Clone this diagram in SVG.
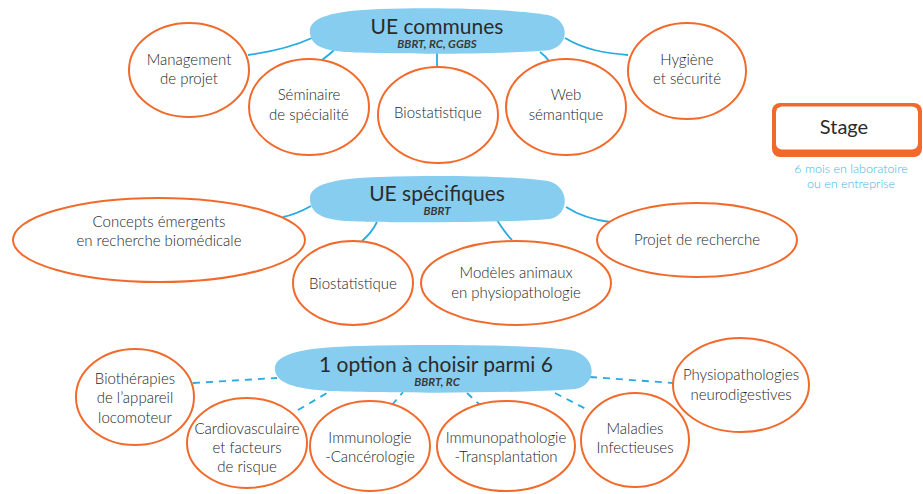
<svg xmlns="http://www.w3.org/2000/svg" width="923" height="494" viewBox="0 0 923 494">
<style>
.bg{fill:#ffffff}
.blob{fill:#87cdef;stroke:none}
.node{fill:#ffffff;stroke:#f26a2b;stroke-width:2}
.t{font-family:Lato,"Open Sans",sans-serif;font-size:15px;font-weight:300;fill:#262626;text-anchor:middle}
.h{font-family:Lato,"Open Sans",sans-serif;font-size:21px;fill:#2b2b2b;text-anchor:middle}
.s{font-family:Lato,"Open Sans",sans-serif;font-size:11.5px;font-style:italic;font-weight:bold;fill:#3a3a3a;text-anchor:middle}
.c{fill:none;stroke:#29abe2;stroke-width:1.8}
.d{fill:none;stroke:#29abe2;stroke-width:1.8;stroke-dasharray:7 6}
.stg{font-family:Lato,"Open Sans",sans-serif;font-size:20px;fill:#2b2b2b;text-anchor:middle}
.sub{font-family:Lato,"Open Sans",sans-serif;font-size:12.5px;font-weight:300;fill:#3fb4e6;text-anchor:middle}
</style>
<rect class="bg" x="0" y="0" width="923" height="494"/>
<g id="connectors">
<path class="c" d="M312 38 C290 48 270 52 248 55"/>
<path class="c" d="M334 50 C330 54 326 57 322 60"/>
<path class="c" d="M437 53 L437 67"/>
<path class="c" d="M540 52 C544 55 547 58 549 61"/>
<path class="c" d="M565 38 C585 50 605 53 628 55"/>
<path class="c" d="M311 206 C302 211 293 215 283 217"/>
<path class="c" d="M377 222 C373 230 368 236 362 241"/>
<path class="c" d="M497 220 C502 228 507 235 512 240"/>
<path class="c" d="M566 207 C580 216 594 220 610 222"/>
<path class="d" d="M193 383 L277 378"/>
<path class="d" d="M298 410 L327 393"/>
<path class="d" d="M392 405 L403 392"/>
<path class="d" d="M467 393 L480 405"/>
<path class="d" d="M555 393 L588 410"/>
<path class="d" d="M590 377 L673 383"/>
</g>
<g id="ue-communes">
<path class="blob" d="M310 33 C308 18 330 11 380 9 C440 7 515 9 548 15 C570 20 570 45 550 50 C500 55 380 54 345 52 C320 50 311 44 310 33 Z"/>
<text class="h" x="437" y="34">UE communes</text>
<text class="s" x="437" y="48">BBRT, RC, GGBS</text>
</g>
<g id="management"><ellipse class="node" cx="189" cy="70" rx="60" ry="47"/><text class="t" x="189" y="65">Management</text><text class="t" x="189" y="84">de projet</text></g>
<g id="seminaire"><ellipse class="node" cx="309" cy="107" rx="60" ry="48"/><text class="t" x="309" y="100">Séminaire</text><text class="t" x="309" y="120">de spécialité</text></g>
<g id="biostat1"><ellipse class="node" cx="438" cy="115" rx="60" ry="48"/><text class="t" x="438" y="118">Biostatistique</text></g>
<g id="web"><ellipse class="node" cx="566" cy="107" rx="60" ry="48"/><text class="t" x="566" y="100">Web</text><text class="t" x="566" y="120">sémantique</text></g>
<g id="hygiene"><ellipse class="node" cx="687" cy="71" rx="59" ry="48"/><text class="t" x="687" y="65">Hygiène</text><text class="t" x="687" y="84">et sécurité</text></g>
<g id="stage">
<rect x="772" y="103" width="150" height="54" rx="8" fill="#f26a2b"/>
<rect x="776" y="106.5" width="142" height="43" rx="6" fill="#ffffff"/>
<text class="stg" x="844" y="134">Stage</text>
<text class="sub" x="851" y="173">6 mois en laboratoire</text>
<text class="sub" x="851" y="188">ou en entreprise</text>
</g>
<g id="ue-specifiques">
<path class="blob" d="M310 200 C308 186 330 178 380 177 C440 175 515 176 548 181 C570 186 570 215 550 219 C500 223 380 223 345 221 C320 219 311 212 310 200 Z"/>
<text class="h" x="437" y="201">UE spécifiques</text>
<text class="s" x="437" y="215">BBRT</text>
</g>
<g id="concepts"><ellipse class="node" cx="159" cy="240" rx="146" ry="42"/><text class="t" x="159" y="227">Concepts émergents</text><text class="t" x="159" y="246">en recherche biomédicale</text></g>
<g id="biostat2"><ellipse class="node" cx="353" cy="283" rx="60" ry="42"/><text class="t" x="353" y="289">Biostatistique</text></g>
<g id="modeles"><ellipse class="node" cx="516" cy="283" rx="95" ry="42"/><text class="t" x="516" y="278">Modèles animaux</text><text class="t" x="516" y="298">en physiopathologie</text></g>
<g id="projet"><ellipse class="node" cx="697" cy="240" rx="100" ry="37"/><text class="t" x="697" y="245">Projet de recherche</text></g>
<g id="option">
<path class="blob" d="M275 370 C273 355 300 347 360 346 C440 344 530 345 570 350 C598 355 598 385 575 389 C510 394 380 393 330 391 C295 389 276 383 275 370 Z"/>
<text class="h" x="436" y="372">1 option à choisir parmi 6</text>
<text class="s" x="437" y="386">BBRT, RC</text>
</g>
<g id="biotherapies"><ellipse class="node" cx="135" cy="397" rx="59" ry="48"/><text class="t" x="135" y="384">Biothérapies</text><text class="t" x="135" y="403">de l’appareil</text><text class="t" x="135" y="423">locomoteur</text></g>
<g id="cardio"><ellipse class="node" cx="247" cy="443" rx="60" ry="45"/><text class="t" x="247" y="434">Cardiovasculaire</text><text class="t" x="247" y="453">et facteurs</text><text class="t" x="247" y="472">de risque</text></g>
<g id="immunologie"><ellipse class="node" cx="370" cy="446" rx="60" ry="45"/><text class="t" x="370" y="443">Immunologie</text><text class="t" x="370" y="462">-Cancérologie</text></g>
<g id="immunopath"><ellipse class="node" cx="506" cy="446" rx="69" ry="45"/><text class="t" x="506" y="443">Immunopathologie</text><text class="t" x="506" y="462">-Transplantation</text></g>
<g id="maladies"><ellipse class="node" cx="635" cy="440" rx="54" ry="47"/><text class="t" x="635" y="434">Maladies</text><text class="t" x="635" y="453">Infectieuses</text></g>
<g id="physio"><ellipse class="node" cx="741" cy="385" rx="68" ry="47"/><text class="t" x="741" y="380">Physiopathologies</text><text class="t" x="741" y="400">neurodigestives</text></g>
</svg>
